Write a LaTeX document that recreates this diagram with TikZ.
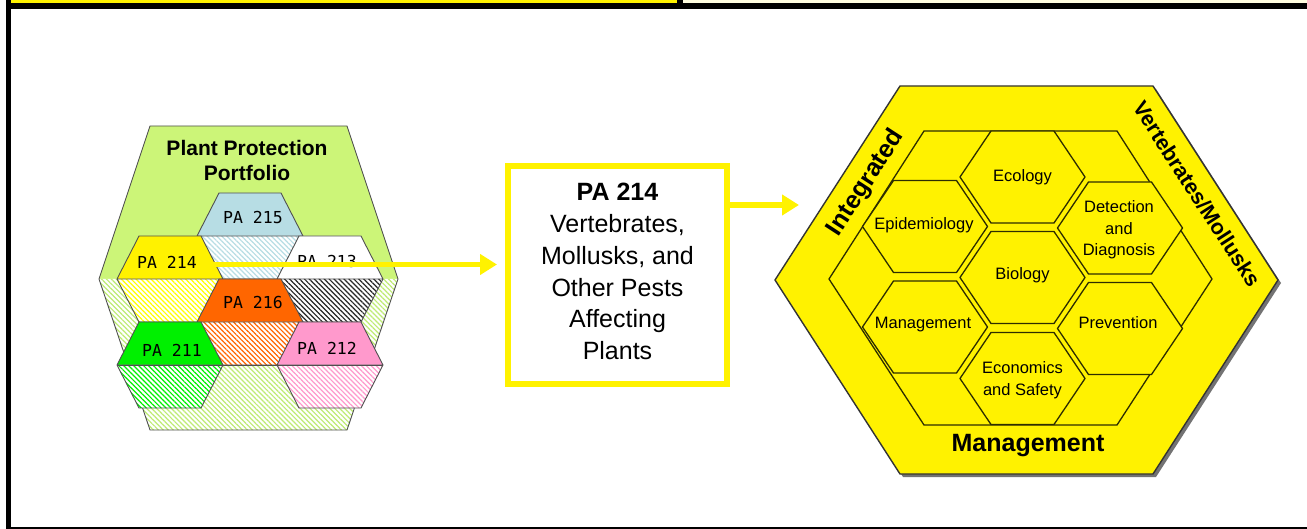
\documentclass[tikz,border=0pt]{standalone}
\usepackage{fontspec}
\setmainfont{Liberation Sans}
\newfontfamily\pamono{DejaVu Sans Mono}
\usetikzlibrary{arrows.meta,patterns.meta}

\definecolor{ppgreen}{RGB}{204,245,120}
\definecolor{pphatch}{RGB}{190,235,115}
\definecolor{pablue}{RGB}{183,221,228}
\definecolor{paorange}{RGB}{255,102,0}
\definecolor{pagreen}{RGB}{0,240,0}
\definecolor{papink}{RGB}{255,153,204}
\definecolor{hexline}{RGB}{80,80,80}
\definecolor{cellline}{RGB}{45,45,0}

\tikzset{
  hatch/.style={pattern={Lines[angle=-45,distance=3.5pt,line width=1.2pt]},pattern color=#1},
  paedge/.style={draw=hexline,line width=0.9pt,line join=round},
  palabel/.style={font=\pamono\fontsize{16.5}{18}\selectfont,inner sep=0},
  celltext/.style={font=\fontsize{16.5}{21.5}\selectfont,align=center,inner sep=0},
  ringtext/.style={font=\bfseries\fontsize{25}{30}\selectfont,inner sep=0},
  ipmcell/.style={fill=yellow,draw=cellline,line width=1.3pt,line join=round},
  flow/.style={draw=yellow,line width=5.5pt,-{Triangle[length=17pt,width=20pt]}},
}

% one portfolio cell: solid upper half, hatched lower half
\newcommand\pacell[4]{% centre x, centre y, fill colour, hatch colour
  \fill[#3] ({#1-53},#2) -- ({#1-31},{#2-43}) -- ({#1+31},{#2-43}) -- ({#1+53},#2) -- cycle;
  \fill[white] ({#1-53},#2) -- ({#1+53},#2) -- ({#1+31},{#2+43}) -- ({#1-31},{#2+43}) -- cycle;
  \fill[hatch=#4] ({#1-53},#2) -- ({#1+53},#2) -- ({#1+31},{#2+43}) -- ({#1-31},{#2+43}) -- cycle;
  \draw[paedge] ({#1-53},#2) -- ({#1-31},{#2-43}) -- ({#1+31},{#2-43}) -- ({#1+53},#2)
    -- ({#1+31},{#2+43}) -- ({#1-31},{#2+43}) -- cycle ({#1-53},#2) -- ({#1+53},#2);
}

% one cell of the management honeycomb
\newcommand\ipmhex[2]{% centre x, centre y
  \draw[ipmcell] ({#1-62.5},#2) -- ({#1-31.5},{#2-46}) -- ({#1+31.5},{#2-46}) -- ({#1+62.5},#2)
    -- ({#1+31.5},{#2+46}) -- ({#1-31.5},{#2+46}) -- cycle;
}

\begin{document}
\begin{tikzpicture}[x=1pt,y=-1pt]
\useasboundingbox (0,0) rectangle (1307,529);
\fill[white] (0,0) rectangle (1307,529);

% frame
\fill[yellow] (10.5,0) rectangle (677,3);
\fill[black] (677,0) rectangle (683,3);
\fill[yellow!12] (683,0) rectangle (1307,3);
\fill[black] (6,3) rectangle (1307,9);
\fill[black] (6,0) rectangle (10.5,528.7);
\fill[black] (6,527.3) rectangle (1307,528.7);

% plant protection portfolio
\fill[ppgreen] (99,279) -- (150,126) -- (347,126) -- (398,279) -- cycle;
\fill[white] (99,279) -- (398,279) -- (347,430) -- (150,430) -- cycle;
\fill[hatch=pphatch] (99,279) -- (398,279) -- (347,430) -- (150,430) -- cycle;
\draw[paedge] (150,126) -- (347,126) -- (398,279) -- (347,430) -- (150,430) -- (99,279) -- cycle;

\pacell{250}{236}{pablue}{pablue}
\pacell{170}{279}{yellow}{yellow}
\pacell{330}{279}{white}{black!85}
\pacell{250}{322}{paorange}{paorange}
\pacell{170}{365}{pagreen}{pagreen}
\pacell{330}{365}{papink}{papink}
\draw[paedge] (117,365) -- (383,365);

\node[font=\bfseries\fontsize{21}{25}\selectfont,align=center,inner sep=0] (ppp) at (247,160.5)
  {Plant Protection\\Portfolio};
\node[palabel] (l215) at (253,217) {PA 215};
\node[palabel] (l214) at (167,262) {PA 214};
\node[palabel] (l213) at (327,261) {PA 213};
\node[palabel] (l216) at (253,302) {PA 216};
\node[palabel] (l211) at (172,350) {PA 211};
\node[palabel] (l212) at (327,348) {PA 212};

% PA 214 box
\node[draw=yellow,line width=6pt,fill=white,minimum width=219pt,minimum height=218pt,inner sep=0]
  (box) at (617.5,275) {};
\node[font=\fontsize{25}{31.8}\selectfont,align=center,inner sep=0] (boxtext) at (617.5,271.5)
  {\textbf{PA 214}\\Vertebrates,\\Mollusks, and\\Other Pests\\Affecting\\Plants};

\coordinate (a214) at (213,264.5);
\draw[flow,shorten >=8pt] (a214) -- (a214 -| box.west);

% integrated management hexagon
\fill[black!55] (903,89) -- (1156,89) -- (1281,283) -- (1156,477) -- (903,477) -- (778,283) -- cycle;
\draw[fill=yellow,draw=black!80,line width=1.4pt,line join=round]
  (900,86) -- (1153,86) -- (1278,280) -- (1153,474) -- (900,474) -- (775,280) -- cycle;
\draw[draw=cellline,line width=1.3pt,line join=round]
  (924,131) -- (1117,131) -- (1212,279) -- (1117,425) -- (924,425) -- (829,279) -- cycle;

\ipmhex{1022.5}{177}
\ipmhex{1022.5}{277.5}
\ipmhex{1022.5}{378.5}
\ipmhex{925}{226.5}
\ipmhex{925}{327}
\ipmhex{1120}{228}
\ipmhex{1120}{328.5}

\node[celltext] (eco) at (1022.5,177) {Ecology};
\node[celltext] (bio) at (1022.5,275) {Biology};
\node[celltext] (econ) at (1022.5,380) {Economics\\and Safety};
\node[celltext] (epi) at (924,225) {Epidemiology};
\node[celltext] (man) at (923,325) {Management};
\node[celltext] (det) at (1119,230) {Detection\\and\\Diagnosis};
\node[celltext] (prev) at (1118,323) {Prevention};

\node[ringtext,rotate=57] (integ) at (866,183) {Integrated};
\node[ringtext,font=\bfseries\fontsize{21.5}{26}\selectfont,rotate=-57] (vert) at (1197,194)
  {Vertebrates/Mollusks};
\node[ringtext] (mgmt) at (1028,446) {Management};

\coordinate (hexin) at (799,205);
\draw[flow] (box.east |- hexin) -- (hexin);
\end{tikzpicture}
\end{document}
